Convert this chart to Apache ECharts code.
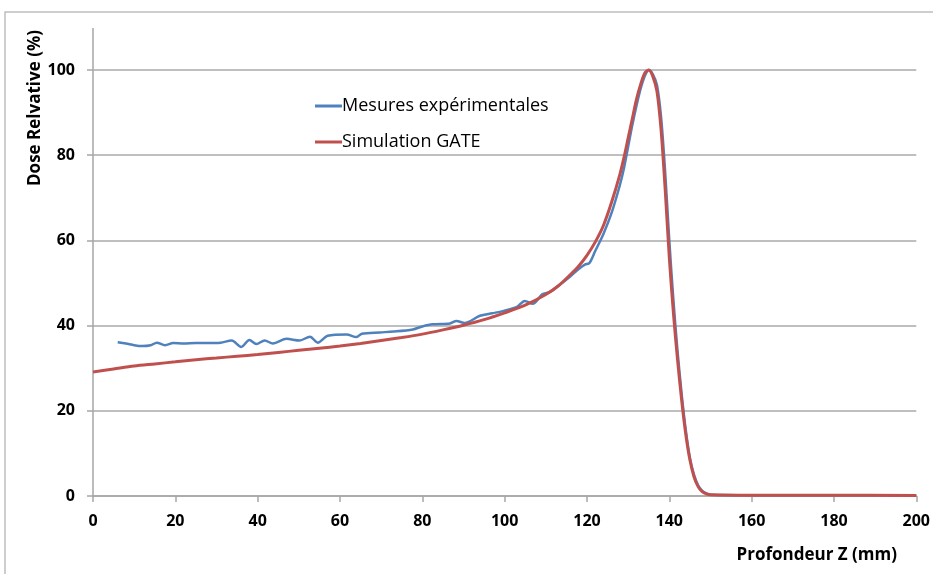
<!DOCTYPE html>
<html>
<head>
<meta charset="utf-8">
<script src="https://cdn.jsdelivr.net/npm/echarts@6/dist/echarts.min.js"></script>
<style>
html,body{margin:0;padding:0;background:#fff;}
#chart{width:933px;height:574px;}
</style>
</head>
<body>
<div id="chart"></div>
<script>
// Depth (mm) / relative dose (%) pairs
const mesuresZ = [6, 8, 10, 12, 14, 15.5, 17.5, 19.5, 22, 25, 28, 31, 33.7, 36, 38, 39.7, 41.7, 43.7, 47, 50.2, 52.7, 54.6, 57, 61.6, 64, 65.3, 69.7, 73, 77.7, 80, 82.5, 86.7, 88.3, 90.3, 94, 97, 99.5, 103, 104.9, 106.8, 109.2, 111, 113, 116, 118, 119.5, 120.6, 122, 124, 126, 128, 129, 130, 131, 132, 133, 134, 135, 136, 137, 138, 139, 140, 141, 142, 143, 144, 145, 146, 147, 148, 149, 150, 160, 180, 200];
const mesuresDose = [36.1, 35.8, 35.4, 35.2, 35.4, 36.0, 35.4, 35.9, 35.8, 35.9, 35.9, 36.0, 36.5, 35.0, 36.6, 35.7, 36.5, 35.8, 36.9, 36.5, 37.4, 36.0, 37.6, 37.9, 37.3, 38.1, 38.4, 38.6, 39.1, 39.8, 40.3, 40.5, 41.1, 40.6, 42.3, 42.9, 43.4, 44.4, 45.8, 45.1, 47.4, 47.9, 49.3, 51.6, 53.3, 54.3, 54.7, 57.5, 61.5, 66.5, 73, 77, 82, 87, 91.5, 95.5, 98.5, 100, 99, 96.5, 89, 76, 60, 46, 34, 24, 15.5, 9, 5, 2.5, 1.2, 0.6, 0.3, 0.2, 0.2, 0.1];

const gateZ = [0, 5, 10, 15, 20, 25, 30, 35, 40, 45, 50, 55, 60, 65, 70, 75, 80, 85, 90, 95, 100, 105, 110, 113, 116, 118, 120, 122, 124, 126, 128, 129, 130, 131, 132, 133, 134, 135, 136, 137, 138, 139, 140, 141, 142, 143, 144, 145, 146, 147, 148, 149, 150, 160, 180, 200];
const gateDose = [29.1, 29.8, 30.5, 31.0, 31.5, 32.0, 32.4, 32.8, 33.2, 33.7, 34.2, 34.7, 35.2, 35.8, 36.5, 37.2, 38.0, 39.0, 40.1, 41.4, 43.0, 44.8, 47.3, 49.3, 52.0, 54.0, 56.5, 59.6, 63.5, 69, 75.5, 79.5, 84, 88.5, 93, 96.5, 99.2, 100, 98.5, 95, 86, 72, 56, 43, 32, 22.5, 14.5, 8.5, 4.5, 2.2, 1.0, 0.5, 0.3, 0.2, 0.2, 0.1];

const seriesNames = ['Mesures expérimentales', 'Simulation GATE'];
const xTitle = 'Profondeur Z (mm)';
const yTitle = 'Dose Relvative (%)';

const font = '"Open Sans", sans-serif';
const chart = echarts.init(document.getElementById('chart'), null, {renderer: 'canvas'});

function pairs(xs, ys) { return xs.map((x, i) => [x, ys[i]]); }

chart.setOption({
  animation: false,
  backgroundColor: '#fff',
  grid: {left: 93, right: 16, top: 70, bottom: 78, containLabel: false},
  legend: {
    orient: 'vertical',
    left: 310,
    top: 92,
    icon: 'rect',
    itemWidth: 27,
    itemHeight: 3,
    itemGap: 18,
    data: seriesNames,
    textStyle: {fontFamily: font, fontSize: 18, color: '#000', padding: [0, 0, 0, -5]}
  },
  xAxis: {
    type: 'value',
    min: 0, max: 200, interval: 20,
    axisLine: {show: true, lineStyle: {color: '#a6a6a6', width: 1.5}},
    axisTick: {show: true, length: 6, lineStyle: {color: '#a6a6a6', width: 1.5}},
    axisLabel: {margin: 17, fontFamily: font, fontWeight: 'bold', fontSize: 16, color: '#000'},
    splitLine: {show: false}
  },
  yAxis: {
    type: 'value',
    min: 0, max: 100, interval: 20,
    axisLine: {show: true, lineStyle: {color: '#a6a6a6', width: 1.5}},
    axisTick: {show: true, length: 6, lineStyle: {color: '#a6a6a6', width: 1.5}},
    axisLabel: {margin: 18, fontFamily: font, fontWeight: 'bold', fontSize: 16, color: '#000'},
    splitLine: {show: true, lineStyle: {color: '#bfbfbf', width: 2}}
  },
  series: [
    {
      name: seriesNames[0], type: 'line', data: pairs(mesuresZ, mesuresDose),
      symbol: 'none', smooth: 0.3, clip: false,
      lineStyle: {color: '#4f81bd', width: 2.5}, itemStyle: {color: '#4f81bd'}, z: 2
    },
    {
      name: seriesNames[1], type: 'line', data: pairs(gateZ, gateDose),
      symbol: 'none', smooth: 0.3, clip: false,
      lineStyle: {color: '#c0504d', width: 3}, itemStyle: {color: '#c0504d'}, z: 3
    }
  ],
  graphic: [
    {type: 'rect', shape: {x: 5, y: 12, width: 960, height: 620}, style: {fill: 'none', stroke: '#bfbfbf', lineWidth: 1.5}, silent: true, z: -1},
    {type: 'line', shape: {x1: 93, y1: 28, x2: 93, y2: 70}, style: {stroke: '#a6a6a6', lineWidth: 1.5}, silent: true},
    {type: 'text', x: 35, y: 108, rotation: Math.PI / 2,
      style: {text: yTitle, font: 'bold 17px ' + font, fill: '#000', textAlign: 'center', textVerticalAlign: 'middle'}},
    {type: 'text', x: 897, y: 555,
      style: {text: xTitle, font: 'bold 17px ' + font, fill: '#000', textAlign: 'right', textVerticalAlign: 'middle'}}
  ]
});
</script>
</body>
</html>
